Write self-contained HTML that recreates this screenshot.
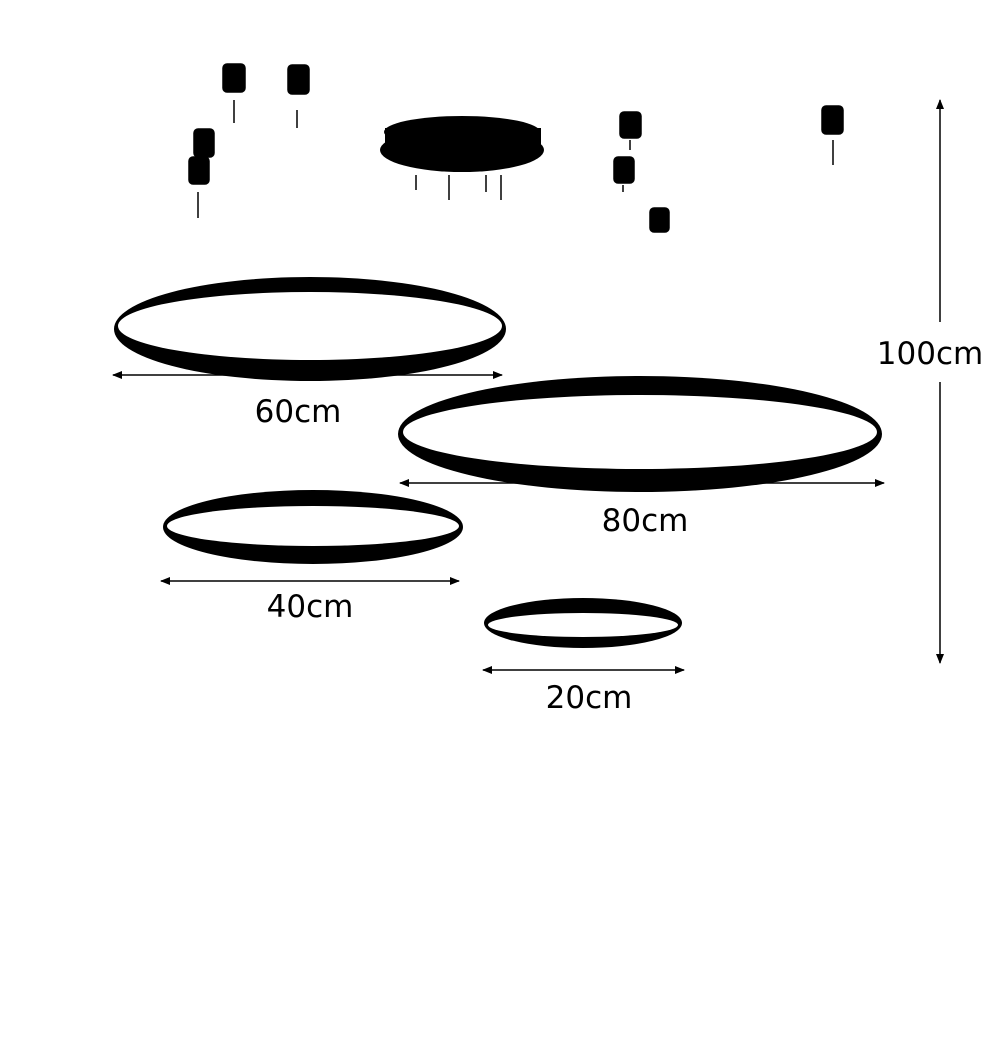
<!DOCTYPE html>
<html><head><meta charset="utf-8"><style>
html,body{margin:0;padding:0;background:#fff;}
svg{display:block;}
text{font-family:"DejaVu Sans","Liberation Sans",sans-serif;font-size:31px;fill:#000;}
</style></head><body>
<svg width="1000" height="1050" viewBox="0 0 1000 1050">
<defs>
<marker id="ah" viewBox="0 0 10 10" refX="9" refY="5" markerWidth="14" markerHeight="10" markerUnits="userSpaceOnUse" orient="auto-start-reverse"><path d="M0,1 L10,5 L0,9 Z" fill="#000"/></marker>
</defs>
<rect width="1000" height="1050" fill="#fff"/>
<g>
<ellipse cx="462" cy="150" rx="82" ry="22" fill="#000"/>
<rect x="385" y="128" width="156" height="22" fill="#000"/>
<ellipse cx="462" cy="132" rx="78" ry="16" fill="#000"/>
<g stroke="#000" stroke-width="1.5"><line x1="416" y1="175" x2="416" y2="190"/><line x1="449" y1="175" x2="449" y2="200"/><line x1="486" y1="175" x2="486" y2="192"/><line x1="501" y1="175" x2="501" y2="200"/></g>
</g>
<g fill="#000" stroke="#000" stroke-width="1.5">
<rect x="223" y="64" width="22" height="28" rx="4"/><line x1="234" y1="100" x2="234" y2="123"/>
<rect x="288" y="65" width="21" height="29" rx="4"/><line x1="297" y1="110" x2="297" y2="128"/>
<rect x="194" y="129" width="20" height="28" rx="4"/>
<rect x="189" y="157" width="20" height="27" rx="4"/><line x1="198" y1="192" x2="198" y2="218"/>
<rect x="620" y="112" width="21" height="26" rx="4"/><line x1="630" y1="140" x2="630" y2="150"/>
<rect x="614" y="157" width="20" height="26" rx="4"/><line x1="623" y1="185" x2="623" y2="192"/>
<rect x="650" y="208" width="19" height="24" rx="4"/>
<rect x="822" y="106" width="21" height="28" rx="4"/><line x1="833" y1="140" x2="833" y2="165"/>
</g>
<g>
<ellipse cx="310" cy="329" rx="196" ry="52" fill="#000"/>
<ellipse cx="310" cy="326" rx="192" ry="34" fill="#fff"/>
</g>
<g>
<ellipse cx="640" cy="434" rx="242" ry="58" fill="#000"/>
<ellipse cx="640" cy="432" rx="237" ry="37" fill="#fff"/>
</g>
<g>
<ellipse cx="313" cy="527" rx="150" ry="37" fill="#000"/>
<ellipse cx="313" cy="526" rx="146" ry="20" fill="#fff"/>
</g>
<g>
<ellipse cx="583" cy="623" rx="99" ry="25" fill="#000"/>
<ellipse cx="583" cy="625" rx="95" ry="12" fill="#fff"/>
</g>
<g stroke="#000" stroke-width="1.5" fill="none">
<line x1="113" y1="375" x2="502" y2="375" marker-start="url(#ah)" marker-end="url(#ah)"/>
<line x1="400" y1="483" x2="884" y2="483" marker-start="url(#ah)" marker-end="url(#ah)"/>
<line x1="161" y1="581" x2="459" y2="581" marker-start="url(#ah)" marker-end="url(#ah)"/>
<line x1="483" y1="670" x2="684" y2="670" marker-start="url(#ah)" marker-end="url(#ah)"/>
<line x1="940" y1="100" x2="940" y2="663" marker-start="url(#ah)" marker-end="url(#ah)"/>
</g>
<rect x="874" y="322" width="112" height="60" fill="#fff"/>
<text x="298" y="422" text-anchor="middle">60cm</text>
<text x="645" y="531" text-anchor="middle">80cm</text>
<text x="310" y="617" text-anchor="middle">40cm</text>
<text x="589" y="708" text-anchor="middle">20cm</text>
<text x="930" y="364" text-anchor="middle">100cm</text>
</svg>
</body></html>
